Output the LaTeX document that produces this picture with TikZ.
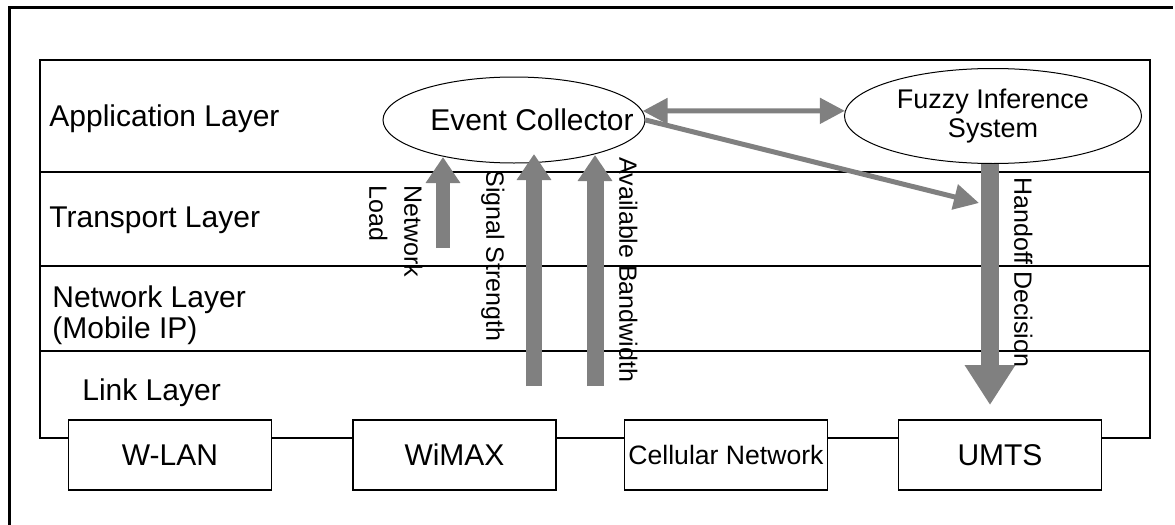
\documentclass[tikz,border=0pt]{standalone}
\usepackage{fontspec}
\setmainfont{Liberation Sans}
\usetikzlibrary{arrows.meta,shapes.geometric}
\definecolor{flowgray}{HTML}{808080}

\tikzset{
  layertext/.style={anchor=west,inner sep=0pt,font=\fontsize{15}{15.5}\selectfont},
  netbox/.style={draw,line width=0.7pt,fill=white,minimum width=101.5pt,minimum height=35pt,inner sep=0pt,font=\fontsize{15}{18}\selectfont},
  unit/.style={draw,ellipse,line width=0.5pt,inner sep=0pt},
  feed/.style={flowgray,-{Triangle[width=16.5pt,length=13pt]}},
  sidetext/.style={rotate=-90,anchor=north west,inner sep=0pt,align=left,font=\fontsize{12.5}{17.5}\selectfont},
  link/.style={flowgray,line width=2.5pt,-{Triangle[width=12.5pt,length=12.5pt]}}
}

\begin{document}
\begin{tikzpicture}[x=0.5pt,y=-0.5pt]
  \useasboundingbox (0,0) rectangle (1175,525);
  % outer frame (only top and left fall inside the page)
  \draw[line width=1.5pt] (9,525) -- (9,7) -- (1173,7);

  % protocol stack
  \draw[line width=0.6pt] (40,60) rectangle (1150,438);
  \foreach \y in {172,266,351}
    \draw[line width=0.6pt] (40,\y) -- (1150,\y);

  \node[layertext] (app) at (49,119) {Application Layer};
  \node[layertext] (trans) at (49,220) {Transport Layer};
  \node[layertext,anchor=north west,align=left] (net) at (52,285) {Network Layer\\(Mobile IP)};
  \node[layertext] (lnk) at (82,393) {Link Layer};

  % access networks on the bottom edge
  \node[netbox] (wlan) at (170,455) {W-LAN};
  \node[netbox] (wimax) at (454.5,455) {WiMAX};
  \node[netbox,font=\fontsize{13.3}{16}\selectfont] (cell) at (726,455) {Cellular Network};
  \node[netbox] (umts) at (1000,455) {UMTS};

  % application layer units
  \node[unit,minimum width=131pt,minimum height=43pt,
        label={[xshift=9pt,font=\fontsize{15}{18}\selectfont]center:Event Collector}] (ec) at (514,120) {};
  \node[unit,minimum width=148.5pt,minimum height=47.5pt,align=center,
        font=\fontsize{13.5}{14.5}\selectfont] (fis) at (993,116) {Fuzzy Inference\\System};

  % measurements going up to the collector
  \foreach \n/\x/\t/\h/\w in {nl/443/248/157/7, ss/534/386/154/8, ab/595/386/155/8.5}{
    \coordinate (\n-tail) at (\x,\t);
    \coordinate (\n-tip) at (\x,\h);
    \draw[feed,line width=\w pt] (\n-tail) -- (\n-tip);
  }
  \node[sidetext] (nl-text) at (423,185) {Network\\Load};
  \node[sidetext] (ss-text) at (505,170) {Signal Strength};
  \node[sidetext] (ab-text) at (638,157) {Available Bandwidth};

  % decision going down to the chosen network
  \coordinate (ho-tip) at (990,405);
  \draw[flowgray,line width=9pt,-{Triangle[width=24pt,length=20pt]}] (ho-tip |- fis.south) -- (ho-tip);
  \node[sidetext] (ho-text) at (1033,177) {Handoff Decision};

  % collector <-> inference, collector -> decision
  \draw[link,{Triangle[width=12.5pt,length=12.5pt]}-{Triangle[width=12.5pt,length=12.5pt]}] (ec.4) -- (fis.178);
  \coordinate (ho-hit) at (979,203);
  \draw[link] (ec.0) -- (ho-hit);
\end{tikzpicture}
\end{document}
